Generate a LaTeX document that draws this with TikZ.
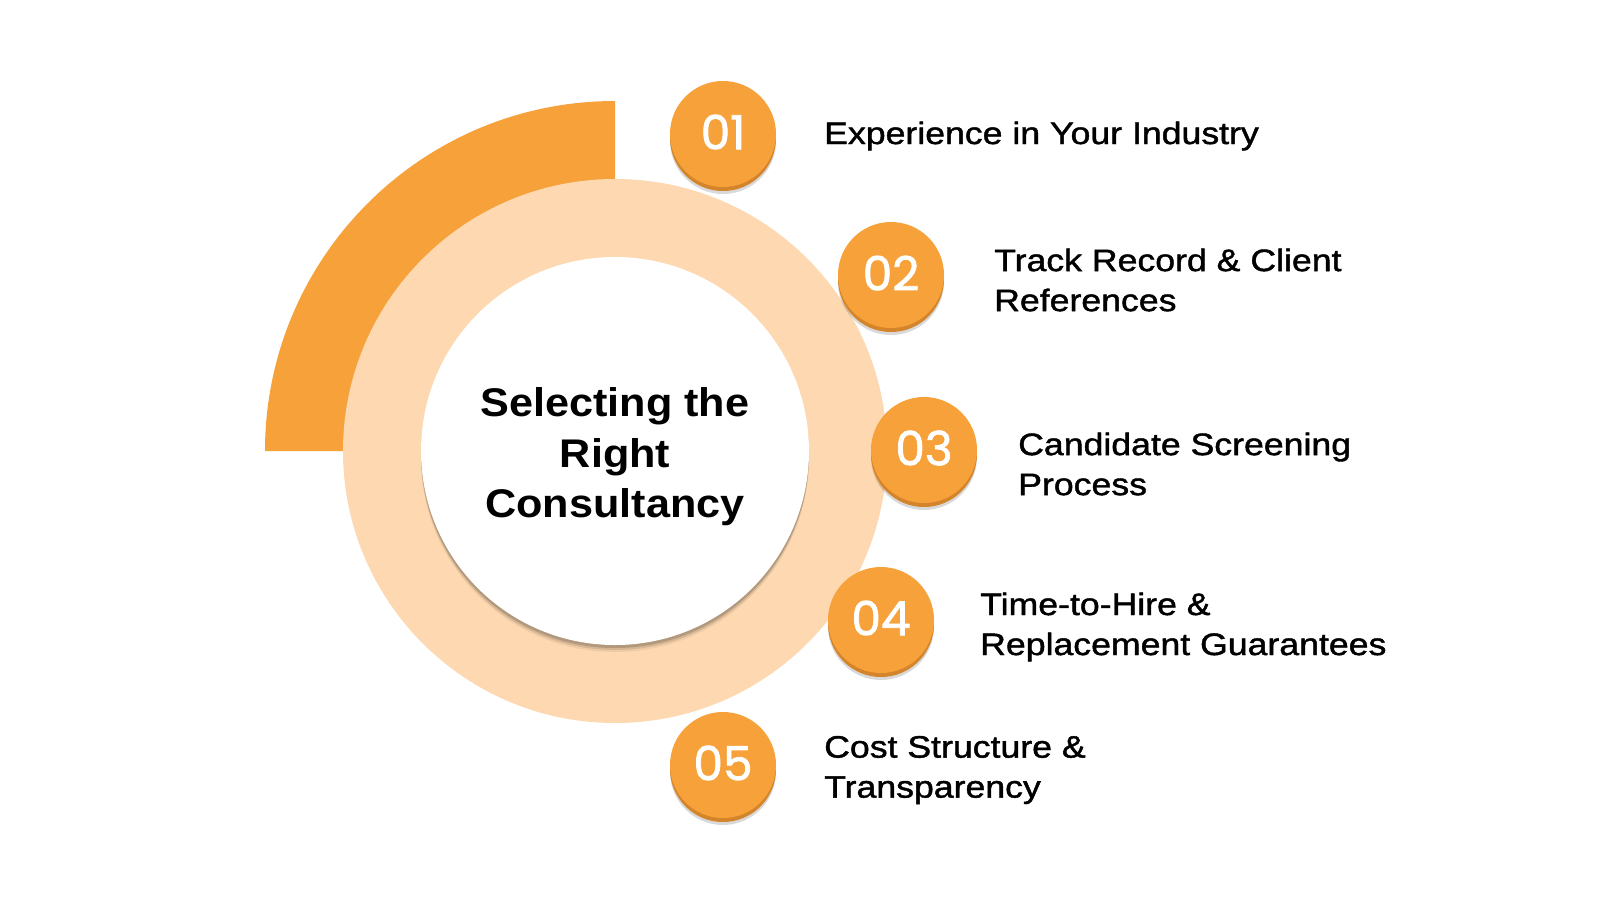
\documentclass[tikz,border=0pt]{standalone}
\usepackage{fontspec}
\setmainfont{Liberation Sans}
\newfontfamily\lblfont[FakeBold=1.4,FakeStretch=1.15]{Liberation Sans}
\newfontfamily\ttlfont[FakeStretch=1.08]{Liberation Sans Bold}
\newfontfamily\numfont[FakeBold=1.6]{Poppins}
\definecolor{orng}{HTML}{F6A13A}
\definecolor{peach}{HTML}{FDD8B0}
\definecolor{rim}{HTML}{D4842A}
\tikzset{
  lbl/.style={anchor=west, align=left, inner sep=0pt, font=\lblfont\fontsize{31}{40}\selectfont, text=black},
  numtxt/.style={inner sep=0pt, text=white, font=\numfont\fontsize{47}{47}\selectfont},
  ttl/.style={align=center, inner sep=0pt, font=\ttlfont\fontsize{40}{50.5}\selectfont, text=black}
}
\begin{document}
\begin{tikzpicture}[x=1pt,y=-1pt]
\useasboundingbox[fill=white] (0,0) rectangle (1600,900);
% orange quarter ring
\fill[orng] (265,451) arc[start angle=180,end angle=270,radius=350] -- (615,451) -- cycle;
% peach ring
\fill[peach] (615,451) circle[radius=272];
% white centre with soft shadow
\foreach \o/\op in {7/0.06,5/0.10,3/0.16}{
  \fill[black,opacity=\op] (615,451+\o) circle[radius=194];
}
\fill[white] (615,451) circle[radius=194];
\node[ttl] (title) at (615,457) {Selecting the\\Right\\Consultancy};
% badges
\foreach \x/\y/\n in {723/134/01, 891/275/02, 924/450/03, 881/620/04, 723/765/05}{
  \fill[black,opacity=0.15] (\x,\y+7) circle[radius=53];
  \fill[rim] (\x,\y+4) circle[radius=53];
  \fill[orng] (\x,\y) circle[radius=53];
  \node[numtxt] (b\n) at (\x,\y-2) {\n};
}
% labels
\node[lbl] (l1) at (824,136) {Experience in Your Industry};
\node[lbl] (l2) at (994,280) {Track Record \& Client\\References};
\node[lbl] (l3) at (1018,464) {Candidate Screening\\Process};
\node[lbl] (l4) at (980,627) {Time-to-Hire \&\\Replacement Guarantees};
\node[lbl] (l5) at (824,770) {Cost Structure \&\\Transparency};
\end{tikzpicture}
\end{document}
